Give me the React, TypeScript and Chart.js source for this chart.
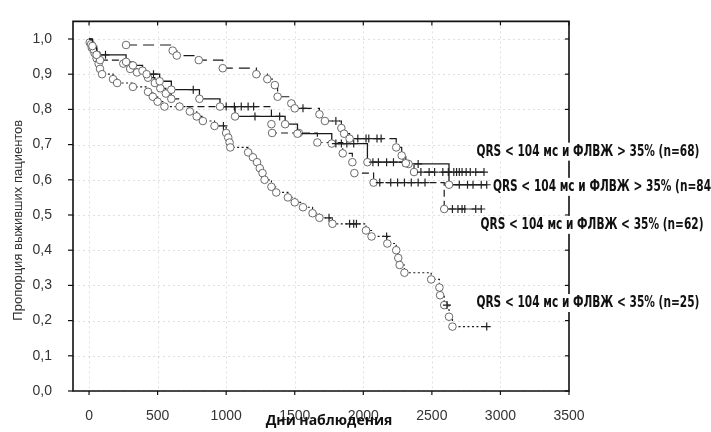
import React, { useEffect, useRef } from 'react';
import { Chart, registerables } from 'chart.js';

Chart.register(...registerables);

// Axis ticks
const xTickValues = [0, 500, 1000, 1500, 2000, 2500, 3000, 3500];
const yTickValues = [0, 0.1, 0.2, 0.3, 0.4, 0.5, 0.6, 0.7, 0.8, 0.9, 1.0];

// Kaplan–Meier curves: [day, survival, kind]  kind: 's' start, 'o' event, '+' censored
const seriesA: [number, number, string][] = [
  [270, 0.983, 'o'], [610, 0.967, 'o'], [640, 0.953, 'o'], [800, 0.94, 'o'], [975, 0.917, 'o'],
  [1220, 0.9, 'o'], [1300, 0.886, 'o'], [1355, 0.869, 'o'], [1375, 0.836, 'o'], [1475, 0.817, 'o'],
  [1500, 0.803, 'o'], [1560, 0.803, '+'], [1680, 0.786, 'o'], [1720, 0.767, 'o'], [1800, 0.767, '+'],
  [1840, 0.747, 'o'], [1860, 0.731, 'o'], [1900, 0.717, 'o'], [1960, 0.717, '+'], [2020, 0.717, '+'],
  [2040, 0.717, '+'], [2100, 0.717, '+'], [2130, 0.717, '+'], [2240, 0.692, 'o'], [2280, 0.669, 'o'],
  [2310, 0.647, 'o'], [2370, 0.622, 'o'], [2420, 0.622, '+'], [2480, 0.622, '+'], [2520, 0.622, '+'],
  [2580, 0.622, '+'], [2620, 0.622, '+'], [2660, 0.622, '+'], [2680, 0.622, '+'], [2700, 0.622, '+'],
  [2720, 0.622, '+'], [2750, 0.622, '+'], [2780, 0.622, '+'], [2820, 0.622, '+'], [2880, 0.622, '+'],
];

const seriesB: [number, number, string][] = [
  [0, 1.0, 's'], [25, 0.98, 'o'], [55, 0.955, 'o'], [120, 0.955, '+'], [270, 0.935, 'o'],
  [320, 0.925, 'o'], [390, 0.91, 'o'], [420, 0.9, 'o'], [470, 0.9, '+'], [515, 0.88, 'o'],
  [600, 0.856, 'o'], [760, 0.856, '+'], [805, 0.83, 'o'], [955, 0.808, 'o'], [1065, 0.78, 'o'],
  [1210, 0.78, '+'], [1390, 0.78, '+'], [1430, 0.758, 'o'], [1520, 0.731, 'o'], [1770, 0.703, 'o'],
  [1800, 0.703, '+'], [1840, 0.703, '+'], [1880, 0.703, '+'], [1930, 0.703, '+'], [2030, 0.65, 'o'],
  [2070, 0.65, '+'], [2110, 0.65, '+'], [2170, 0.65, '+'], [2220, 0.65, '+'], [2290, 0.65, '+'],
  [2330, 0.645, 'o'], [2400, 0.645, '+'], [2625, 0.586, 'o'], [2700, 0.586, '+'], [2760, 0.586, '+'],
  [2800, 0.586, '+'], [2860, 0.586, '+'], [2900, 0.586, '+'],
];

const seriesC: [number, number, string][] = [
  [0, 1.0, 's'], [15, 0.985, 'o'], [35, 0.97, 'o'], [60, 0.955, 'o'], [80, 0.94, 'o'],
  [250, 0.93, 'o'], [300, 0.915, 'o'], [350, 0.905, 'o'], [430, 0.89, 'o'], [480, 0.875, 'o'],
  [520, 0.86, 'o'], [560, 0.845, 'o'], [600, 0.83, 'o'], [660, 0.808, 'o'], [1000, 0.808, '+'],
  [1060, 0.808, '+'], [1110, 0.808, '+'], [1160, 0.808, '+'], [1200, 0.808, '+'], [1330, 0.758, 'o'],
  [1335, 0.733, 'o'], [1530, 0.733, 'o'], [1665, 0.706, 'o'], [1850, 0.675, 'o'], [1920, 0.65, 'o'],
  [1935, 0.619, 'o'], [2075, 0.592, 'o'], [2120, 0.592, '+'], [2200, 0.592, '+'], [2250, 0.592, '+'],
  [2300, 0.592, '+'], [2350, 0.592, '+'], [2400, 0.592, '+'], [2450, 0.592, '+'], [2590, 0.517, 'o'],
  [2650, 0.517, '+'], [2690, 0.517, '+'], [2720, 0.517, '+'], [2740, 0.517, '+'], [2820, 0.517, '+'],
  [2860, 0.517, '+'],
];

const seriesD: [number, number, string][] = [
  [0, 1.0, 's'], [5, 0.99, 'o'], [20, 0.975, 'o'], [40, 0.96, 'o'], [55, 0.945, 'o'],
  [70, 0.93, 'o'], [80, 0.915, 'o'], [95, 0.9, 'o'], [175, 0.886, 'o'], [205, 0.875, 'o'],
  [320, 0.864, 'o'], [430, 0.85, 'o'], [465, 0.836, 'o'], [500, 0.822, 'o'], [550, 0.808, 'o'],
  [735, 0.794, 'o'], [785, 0.78, 'o'], [830, 0.767, 'o'], [915, 0.753, 'o'], [980, 0.753, '+'],
  [1000, 0.733, 'o'], [1015, 0.72, 'o'], [1025, 0.706, 'o'], [1030, 0.692, 'o'], [1160, 0.678, 'o'],
  [1195, 0.664, 'o'], [1225, 0.65, 'o'], [1245, 0.633, 'o'], [1265, 0.619, 'o'], [1280, 0.6, 'o'],
  [1330, 0.58, 'o'], [1365, 0.564, 'o'], [1450, 0.55, 'o'], [1500, 0.536, 'o'], [1560, 0.522, 'o'],
  [1630, 0.505, 'o'], [1680, 0.492, 'o'], [1750, 0.492, '+'], [1775, 0.475, 'o'], [1900, 0.475, '+'],
  [1930, 0.475, '+'], [1950, 0.475, '+'], [2020, 0.456, 'o'], [2060, 0.439, 'o'], [2170, 0.439, '+'],
  [2175, 0.419, 'o'], [2240, 0.4, 'o'], [2255, 0.378, 'o'], [2265, 0.358, 'o'], [2300, 0.336, 'o'],
  [2495, 0.317, 'o'], [2555, 0.294, 'o'], [2560, 0.272, 'o'], [2590, 0.244, 'o'], [2610, 0.244, '+'],
  [2625, 0.211, 'o'], [2650, 0.183, 'o'], [2900, 0.183, '+'],
];

const curveLabels = [
  'QRS < 104 мс и ФЛВЖ > 35% (n=68)',
  'QRS < 104 мс и ФЛВЖ > 35% (n=84)',
  'QRS < 104 мс и ФЛВЖ < 35% (n=62)',
  'QRS < 104 мс и ФЛВЖ < 35% (n=25)',
];
// label anchors in data units (left day, survival level)
const labelDays = [2825, 2945, 2855, 2825];
const labelLevels = [0.68, 0.58, 0.472, 0.25];

const xTitle = 'Дни наблюдения';
const yTitle = 'Пропорция выживших пациентов';

const makeDataset = (series: [number, number, string][], dash: number[], width: number) => ({
  data: series.map(([d, s]) => ({ x: d, y: s })),
  stepped: 'before' as const,
  borderColor: '#1a1a1a',
  borderWidth: width,
  borderDash: dash,
  fill: false,
  pointStyle: series.map(([, , k]) => (k === '+' ? 'cross' : 'circle')),
  pointRadius: series.map(([, , k]) => (k === 's' ? 0 : k === '+' ? 4 : 3.8)),
  pointBorderColor: series.map(([, , k]) => (k === '+' ? '#222' : '#6a6a6a')),
  pointBackgroundColor: '#ffffff',
  pointBorderWidth: series.map(([, , k]) => (k === '+' ? 1.2 : 1)),
});

const framePlugin = {
  id: 'kmFrame',
  beforeDatasetsDraw(chart: any) {
    const { ctx, chartArea: a, scales } = chart;
    const x = scales.x, y = scales.y;
    ctx.save();
    ctx.strokeStyle = 'rgba(0,0,0,0.12)';
    ctx.lineWidth = 1;
    ctx.setLineDash([2, 3]);
    for (const t of xTickValues) {
      const px = Math.round(x.getPixelForValue(t)) + 0.5;
      ctx.beginPath(); ctx.moveTo(px, a.top); ctx.lineTo(px, a.bottom); ctx.stroke();
    }
    for (const t of yTickValues) {
      const py = Math.round(y.getPixelForValue(t)) + 0.5;
      ctx.beginPath(); ctx.moveTo(a.left, py); ctx.lineTo(a.right, py); ctx.stroke();
    }
    ctx.restore();
  },
  afterDraw(chart: any) {
    const { ctx, chartArea: a, scales } = chart;
    const x = scales.x, y = scales.y;
    ctx.save();
    ctx.setLineDash([]);
    ctx.strokeStyle = '#111';
    ctx.lineWidth = 1.6;
    ctx.beginPath();
    ctx.rect(a.left, a.top, a.right - a.left, a.bottom - a.top);
    ctx.stroke();
    ctx.lineWidth = 1.2;
    for (const t of xTickValues) {
      const px = x.getPixelForValue(t);
      ctx.beginPath(); ctx.moveTo(px, a.bottom); ctx.lineTo(px, a.bottom + 4); ctx.stroke();
      ctx.beginPath(); ctx.moveTo(px, a.top); ctx.lineTo(px, a.top + 4); ctx.stroke();
    }
    for (const t of yTickValues) {
      const py = y.getPixelForValue(t);
      ctx.beginPath(); ctx.moveTo(a.left - 5, py); ctx.lineTo(a.left, py); ctx.stroke();
      ctx.beginPath(); ctx.moveTo(a.right - 4, py); ctx.lineTo(a.right, py); ctx.stroke();
    }

    // curve labels
    ctx.font = 'bold 15px "Liberation Sans Narrow", "DejaVu Sans Condensed", "Roboto", sans-serif';
    ctx.textBaseline = 'middle';
    ctx.textAlign = 'left';
    curveLabels.forEach((txt, i) => {
      const lx = x.getPixelForValue(labelDays[i]);
      const ly = y.getPixelForValue(labelLevels[i]);
      const w = ctx.measureText(txt).width;
      const target = 223;
      ctx.fillStyle = '#ffffff';
      ctx.fillRect(lx - 2, ly - 9, target + 4, 18);
      ctx.save();
      ctx.translate(lx, ly);
      ctx.scale(target / w, 1);
      ctx.fillStyle = '#111';
      ctx.fillText(txt, 0, 0);
      ctx.restore();
    });

    // axis titles
    ctx.fillStyle = '#111';
    ctx.font = 'bold 14px "Open Sans", "DejaVu Sans", sans-serif';
    ctx.textAlign = 'center';
    ctx.textBaseline = 'middle';
    ctx.fillText(xTitle, (a.left + a.right) / 2 + 8, 421);

    ctx.save();
    ctx.font = '13px "Liberation Sans", Arial, sans-serif';
    ctx.fillStyle = '#333';
    ctx.translate(18, (a.top + a.bottom) / 2 + 14);
    ctx.rotate(-Math.PI / 2);
    ctx.fillText(yTitle, 0, 0);
    ctx.restore();
    ctx.restore();
  },
};

export default function App() {
  const canvasRef = useRef<HTMLCanvasElement | null>(null);

  useEffect(() => {
    if (!canvasRef.current) return;
    const chart = new Chart(canvasRef.current, {
      type: 'line',
      data: {
        datasets: [
          makeDataset(seriesA, [11, 6], 1.2),
          makeDataset(seriesB, [], 1.3),
          makeDataset(seriesC, [7, 4], 1.2),
          makeDataset(seriesD, [2, 2.5], 1.2),
        ] as any,
      },
      options: {
        animation: false,
        responsive: false,
        maintainAspectRatio: false,
        layout: { padding: { left: 0, right: 142, top: 13, bottom: 0 } },
        plugins: { legend: { display: false }, tooltip: { enabled: false } },
        scales: {
          x: {
            type: 'linear',
            min: -117,
            max: 3500,
            grid: { display: false },
            border: { display: false },
            afterBuildTicks: (scale: any) => {
              scale.ticks = xTickValues.map((v) => ({ value: v }));
            },
            afterFit: (scale: any) => {
              scale.height = 41;
            },
            ticks: {
              color: '#333',
              font: { family: '"Liberation Sans", Arial, sans-serif', size: 14 },
              padding: 9,
              maxRotation: 0,
              callback: (v: any) => String(v),
            },
          },
          y: {
            type: 'linear',
            min: 0,
            max: 1.05,
            grid: { display: false },
            border: { display: false },
            afterBuildTicks: (scale: any) => {
              scale.ticks = yTickValues.map((v) => ({ value: v }));
            },
            afterFit: (scale: any) => {
              scale.width = 73;
            },
            ticks: {
              color: '#333',
              font: { family: '"Liberation Sans", Arial, sans-serif', size: 14 },
              padding: 13,
              callback: (v: any) => Number(v).toFixed(1).replace('.', ','),
            },
          },
        },
      },
      plugins: [framePlugin],
    } as any);
    return () => chart.destroy();
  }, []);

  return (
    <div style={{ position: 'absolute', left: 0, top: 0, width: 711, height: 432, background: '#fff' }}>
      <canvas ref={canvasRef} width={711} height={432} style={{ width: 711, height: 432, display: 'block' }} />
    </div>
  );
}
